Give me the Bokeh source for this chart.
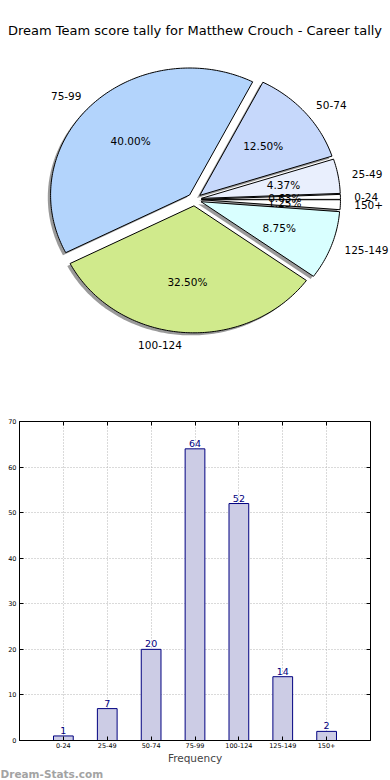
import math
from bokeh.plotting import figure
from bokeh.models import Range1d, Label, FixedTicker, LinearAxis, Title, CustomLabelingPolicy
from bokeh.embed import file_html
from bokeh.resources import INLINE
from bokeh.core.properties import value

# ---------------- data ----------------
title_text = "Dream Team score tally for Matthew Crouch - Career tally"
categories = ["0-24", "25-49", "50-74", "75-99", "100-124", "125-149", "150+"]
counts = [1, 7, 20, 64, 52, 14, 2]
pct_labels = ["0.63%", "4.37%", "12.50%", "40.00%", "32.50%", "8.75%", "1.25%"]
slice_colors = ["#ffffff", "#e9effd", "#c6d8fb", "#b3d4fc", "#d0ea8c", "#d9ffff", "#ffffff"]
y_ticks = [0, 10, 20, 30, 40, 50, 60, 70]
x_label = "Frequency"
watermark = "Dream-Stats.com"

FONT = "DejaVu Sans"
W, H1, H2 = 390, 400, 380
RX, RY = 139.0, 127.0      # pixels per unit radius (the pie is not aspect-equal)
CX, CY = 194.0, 199.0      # pie centre in figure pixels (from top-left)
EXPLODE = 0.05
SHADOW = -0.02

# ---------------- pie ----------------
p1 = figure(width=W, height=H1, output_backend="svg", toolbar_location=None,
            x_range=Range1d(-CX / RX, (W - CX) / RX),
            y_range=Range1d((CY - H1) / RY, CY / RY),
            x_axis_type=None, y_axis_type=None, min_border=0)
p1.outline_line_color = None

total = float(sum(counts))
xs, ys, sxs, sys_ = [], [], [], []
lab_x, lab_y, lab_al = [], [], []
pct_x, pct_y = [], []
start = 0.0
for v in counts:
    span = 360.0 * v / total
    t1, t2 = start, start + span
    mid = math.radians((t1 + t2) / 2.0)
    ox, oy = EXPLODE * math.cos(mid), EXPLODE * math.sin(mid)
    n = max(2, int(span) + 1)
    arc = [math.radians(t1 + (t2 - t1) * i / n) for i in range(n + 1)]
    px = [ox] + [ox + math.cos(a) for a in arc]
    py = [oy] + [oy + math.sin(a) for a in arc]
    xs.append(px)
    ys.append(py)
    sxs.append([x + SHADOW for x in px])
    sys_.append([y + SHADOW for y in py])
    lx = ox + 1.1 * math.cos(mid)
    ly = oy + 1.1 * math.sin(mid)
    lab_x.append(lx)
    lab_y.append(ly)
    lab_al.append("left" if lx > 0 else "right")
    pct_x.append(ox + 0.6 * math.cos(mid))
    pct_y.append(oy + 0.6 * math.sin(mid))
    start = t2

p1.patches(xs=sxs, ys=sys_, fill_color="#8f8f8f", fill_alpha=0.9, line_color=None)
p1.patches(xs=xs, ys=ys, fill_color=slice_colors, line_color="black", line_width=1)
p1.text(x=lab_x, y=lab_y, text=categories, text_align=lab_al, text_baseline="middle",
        text_font=value(FONT), text_font_size="10.5px", text_color="black")
p1.text(x=pct_x, y=pct_y, text=pct_labels, text_align="center", text_baseline="middle",
        text_font=value(FONT), text_font_size="10.5px", text_color="black")
p1.add_layout(Label(x=194.5, y=H1 - 30, x_units="screen", y_units="screen",
                    text=title_text, text_align="center", text_baseline="middle",
                    text_font=FONT, text_font_size="13px", text_color="black"))

# ---------------- bars ----------------
xpos = list(range(len(categories)))
x_end = len(categories)
p2 = figure(width=W, height=H2, output_backend="svg", toolbar_location=None,
            x_range=Range1d(-1, x_end), y_range=Range1d(y_ticks[0], y_ticks[-1]),
            min_border_left=19, min_border_right=20, min_border_top=21, min_border_bottom=40)
p2.outline_line_color = "black"
p2.outline_line_width = 1

p2.xaxis.ticker = FixedTicker(ticks=xpos)
p2.yaxis.ticker = FixedTicker(ticks=y_ticks)
p2.xaxis.major_label_overrides = {i: c for i, c in enumerate(categories)}
for ax in (p2.xaxis, p2.yaxis):
    ax.major_tick_in = 4
    ax.major_tick_out = 0
    ax.minor_tick_line_color = None
    ax.axis_line_color = "black"
    ax.major_tick_line_color = "black"
    ax.major_label_text_font = FONT
    ax.major_label_text_font_size = "6.5px"
    ax.major_label_text_color = "black"
    ax.major_label_standoff = 3
p2.xaxis.major_label_standoff = 2
p2.xaxis.axis_label = x_label
p2.xaxis.axis_label_text_font = FONT
p2.xaxis.axis_label_text_font_size = "10.5px"
p2.xaxis.axis_label_text_font_style = "normal"
p2.xaxis.axis_label_standoff = 1

# tick marks on the top and right spines (matplotlib style), without labels
top_ax = LinearAxis(ticker=FixedTicker(ticks=xpos), major_tick_in=4, major_tick_out=0,
                    minor_tick_line_color=None, axis_line_color=None,
                    major_label_policy=CustomLabelingPolicy(code="return new Set()"),
                    major_label_standoff=0, major_label_text_font_size="6.5px")
right_ax = LinearAxis(ticker=FixedTicker(ticks=y_ticks), major_tick_in=4, major_tick_out=0,
                      minor_tick_line_color=None, axis_line_color=None,
                      major_label_policy=CustomLabelingPolicy(code="return new Set()"),
                      major_label_standoff=0, major_label_text_font_size="6.5px")
p2.add_layout(top_ax, "above")
p2.add_layout(right_ax, "right")

p2.grid.grid_line_color = "#b4b4b4"
p2.grid.grid_line_dash = "1 2"
p2.grid.grid_line_width = 1

p2.vbar(x=xpos, top=counts, width=0.45, fill_color="#ccccE5", line_color="#000080", line_width=1)
p2.text(x=xpos, y=counts, text=[str(c) for c in counts], text_align="center",
        text_baseline="bottom", y_offset=-2, text_font=value(FONT), text_font_size="9.5px",
        text_color="#000080")
p2.add_layout(Title(text=watermark, align="left", offset=-19, standoff=-2,
                    text_font=FONT, text_font_size="10.5px", text_font_style="bold",
                    text_color="#a3a3a3"), "below")

open("out.html", "w").write(file_html([p1, p2], INLINE))
